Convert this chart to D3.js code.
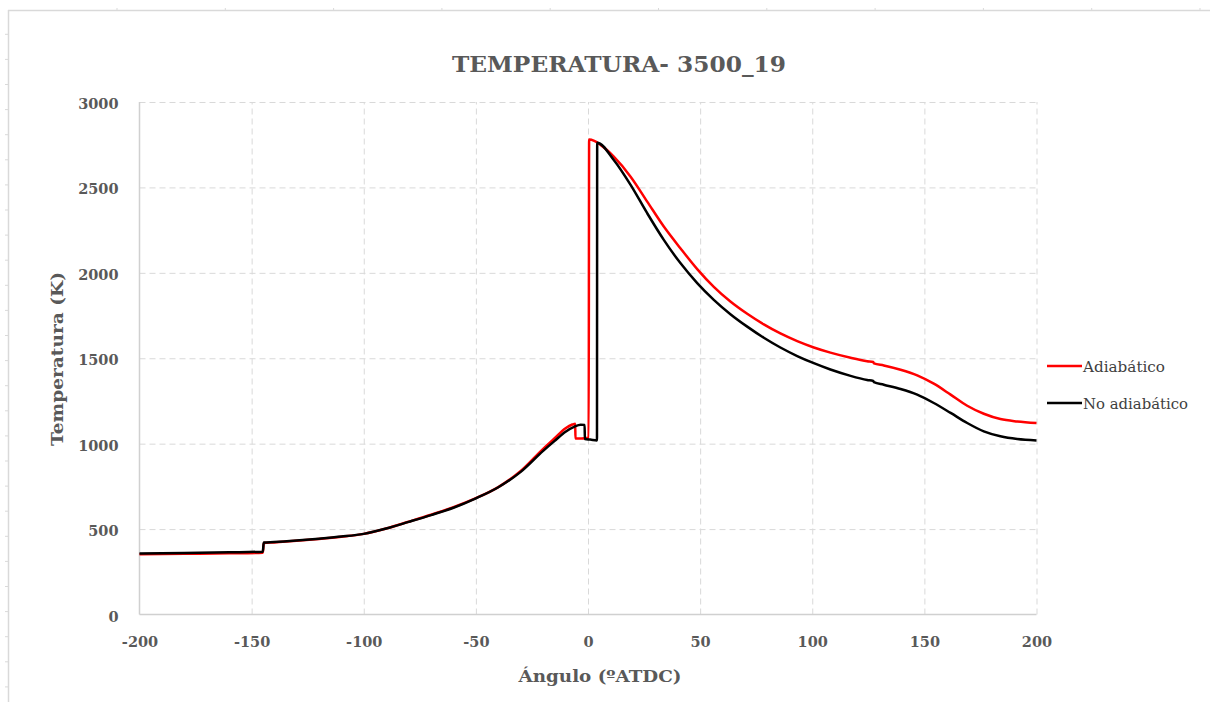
<!DOCTYPE html>
<html>
<head>
<meta charset="utf-8">
<script src="https://cdn.jsdelivr.net/npm/d3@7.9.0/dist/d3.min.js"></script>
<style>
  body { margin: 0; background: #fff; }
  svg { display: block; }
  .tick text { font-family: "DejaVu Serif", serif; font-weight: bold; fill: #595959; }
</style>
</head>
<body>
<svg id="chart" width="1210" height="702"></svg>
<script>
// data
const xTicks = [-200, -150, -100, -50, 0, 50, 100, 150, 200];
const yTicks = [0, 500, 1000, 1500, 2000, 2500, 3000];

const angleAdiab = [-200, -180, -160, -145, -144.6, -140, -130, -120, -110, -100, -90, -80, -70, -60, -50, -40, -30,
  -20, -15, -10, -7, -5.7, -5.6, -3, 0.3, 0.5, 2.8, 5.6, 11.5, 19, 26.4, 33.8, 41.2, 48.7, 56.1, 63.5, 71, 78.4,
  85.8, 93.3, 100.7, 108.1, 117.1, 124.5, 127.2, 127.5, 131.9, 139.4, 146.8, 154.2, 161.7, 169.1, 176.5, 183.9,
  191.4, 200];
const tempAdiab = [352, 355, 358, 362, 418, 422, 431, 442, 455, 472, 503, 543, 584, 628, 681, 746, 840,
  970, 1030, 1090, 1112, 1117, 1030, 1030, 1035, 2780, 2772, 2749, 2680, 2563, 2417, 2271, 2144, 2022, 1918, 1832,
  1760, 1698, 1645, 1600, 1563, 1533, 1503, 1483, 1478, 1470, 1458, 1433, 1400, 1351, 1287, 1222, 1175, 1144,
  1130, 1121];

const angleNoAdiab = [-200, -180, -160, -145, -144.6, -140, -130, -120, -110, -100, -90, -80, -70, -60, -50, -40, -30,
  -20, -15, -10, -6, -3.3, -1.5, -1.4, 1, 4.0, 4.1, 11.5, 19, 26.4, 33.8, 41.2, 48.7, 56.1, 63.5, 71, 78.4, 85.8,
  93.3, 100.7, 108.1, 117.1, 124.5, 127.2, 127.5, 131.9, 139.4, 146.8, 154.2, 161.7, 169.1, 176.5, 183.9, 191.4,
  200];
const tempNoAdiab = [357, 360, 364, 368, 421, 424, 433, 444, 456, 472, 503, 542, 582, 625, 680, 745, 835,
  958, 1015, 1070, 1100, 1111, 1110, 1027, 1024, 1019, 2762, 2661, 2515, 2349, 2193, 2057, 1940, 1842, 1758,
  1685, 1620, 1563, 1513, 1471, 1434, 1397, 1373, 1367, 1360, 1345, 1320, 1287, 1238, 1180, 1121, 1072, 1043,
  1027, 1019];

const seriesNames = ["Adiabático", "No adiabático"];
const seriesColors = ["#ff0000", "#000000"];

const svg = d3.select("#chart");
const plotLeft = 139.5, plotRight = 1036.5, plotTop = 102, plotBottom = 614.5;

const x = d3.scaleLinear().domain([-200, 200]).range([plotLeft, plotRight]);
const y = d3.scaleLinear().domain([0, 3000]).range([plotBottom, plotTop]);
const plain = d => String(d);

// outer frame with ruler marks
const frame = svg.append("g").attr("stroke", "#d9d9d9").attr("fill", "none");
frame.append("line").attr("x1", 8.5).attr("x2", 8.5).attr("y1", 10).attr("y2", 702).attr("stroke-width", 1.5);
frame.append("line").attr("x1", 8).attr("x2", 1210).attr("y1", 10.5).attr("y2", 10.5).attr("stroke-width", 1.5);
frame.selectAll(".rl").data(d3.range(34.3, 702, 25.1)).join("line")
  .attr("x1", 5).attr("x2", 8).attr("y1", d => d).attr("y2", d => d);
frame.selectAll(".rt").data(d3.range(117, 1210, 108.3)).join("line")
  .attr("x1", d => d).attr("x2", d => d).attr("y1", 8).attr("y2", 10);

// grid
svg.append("g")
  .attr("transform", `translate(0,${plotBottom})`)
  .call(d3.axisBottom(x).tickValues(xTicks.slice(1)).tickSize(-(plotBottom - plotTop)).tickFormat(""))
  .call(g => g.select(".domain").remove())
  .call(g => g.selectAll("line").attr("stroke", "#d9d9d9").attr("stroke-dasharray", "6,4"));
svg.append("g")
  .attr("transform", `translate(${plotLeft},0)`)
  .call(d3.axisLeft(y).tickValues(yTicks.slice(1)).tickSize(-(plotRight - plotLeft)).tickFormat(""))
  .call(g => g.select(".domain").remove())
  .call(g => g.selectAll("line").attr("stroke", "#d9d9d9").attr("stroke-dasharray", "6,4"));

// axis lines
svg.append("line").attr("x1", plotLeft).attr("x2", plotLeft).attr("y1", plotTop).attr("y2", plotBottom)
  .attr("stroke", "#d0d0d0").attr("stroke-width", 1.5);
svg.append("line").attr("x1", plotLeft).attr("x2", plotRight).attr("y1", plotBottom).attr("y2", plotBottom)
  .attr("stroke", "#d0d0d0").attr("stroke-width", 1.5);

// tick labels
svg.append("g")
  .attr("transform", `translate(0,${plotBottom + 22})`)
  .call(d3.axisBottom(x).tickValues(xTicks).tickSize(0).tickPadding(0).tickFormat(plain))
  .call(g => g.select(".domain").remove())
  .call(g => g.selectAll("text").attr("font-size", 14.5).attr("dy", "0.71em"));
svg.append("g")
  .attr("transform", `translate(${plotLeft - 21},0)`)
  .call(d3.axisLeft(y).tickValues(yTicks).tickSize(0).tickPadding(0).tickFormat(plain))
  .call(g => g.select(".domain").remove())
  .call(g => g.selectAll("text").attr("font-size", 14.5).attr("dy", "0.45em"));

// series
const line = d3.line().x(d => x(d[0])).y(d => y(d[1])).curve(d3.curveMonotoneX);
const series = [
  d3.zip(angleAdiab, tempAdiab),
  d3.zip(angleNoAdiab, tempNoAdiab)
];
svg.append("g").selectAll("path").data(series).join("path")
  .attr("d", line)
  .attr("fill", "none")
  .attr("stroke", (d, i) => seriesColors[i])
  .attr("stroke-width", 2.5)
  .attr("stroke-linejoin", "round");

// title and axis titles
svg.append("text").attr("x", 619).attr("y", 72).attr("text-anchor", "middle")
  .attr("font-family", "DejaVu Serif, serif").attr("font-weight", "bold").attr("font-size", 22)
  .attr("fill", "#595959").attr("textLength", 334).attr("lengthAdjust", "spacingAndGlyphs")
  .text("TEMPERATURA- 3500_19");
svg.append("text").attr("x", 600).attr("y", 682).attr("text-anchor", "middle")
  .attr("font-family", "DejaVu Serif, serif").attr("font-weight", "bold").attr("font-size", 16)
  .attr("fill", "#595959").attr("textLength", 163).attr("lengthAdjust", "spacingAndGlyphs")
  .text("Ángulo (ºATDC)");
svg.append("text").attr("transform", "translate(63,359) rotate(-90)").attr("text-anchor", "middle")
  .attr("font-family", "DejaVu Serif, serif").attr("font-weight", "bold").attr("font-size", 16)
  .attr("fill", "#595959").attr("textLength", 174).attr("lengthAdjust", "spacingAndGlyphs")
  .text("Temperatura (K)");

// legend
const legend = svg.append("g").selectAll("g").data(seriesNames).join("g")
  .attr("transform", (d, i) => `translate(1047,${366 + i * 37})`);
legend.append("line").attr("x1", 0).attr("x2", 35)
  .attr("stroke", (d, i) => seriesColors[i]).attr("stroke-width", 2.5);
legend.append("text").attr("x", 36).attr("y", 6)
  .attr("font-family", "DejaVu Serif, serif").attr("font-size", 15).attr("fill", "#404040")
  .attr("textLength", (d, i) => i === 0 ? 82 : 105).attr("lengthAdjust", "spacingAndGlyphs")
  .text(d => d);
</script>
</body>
</html>
